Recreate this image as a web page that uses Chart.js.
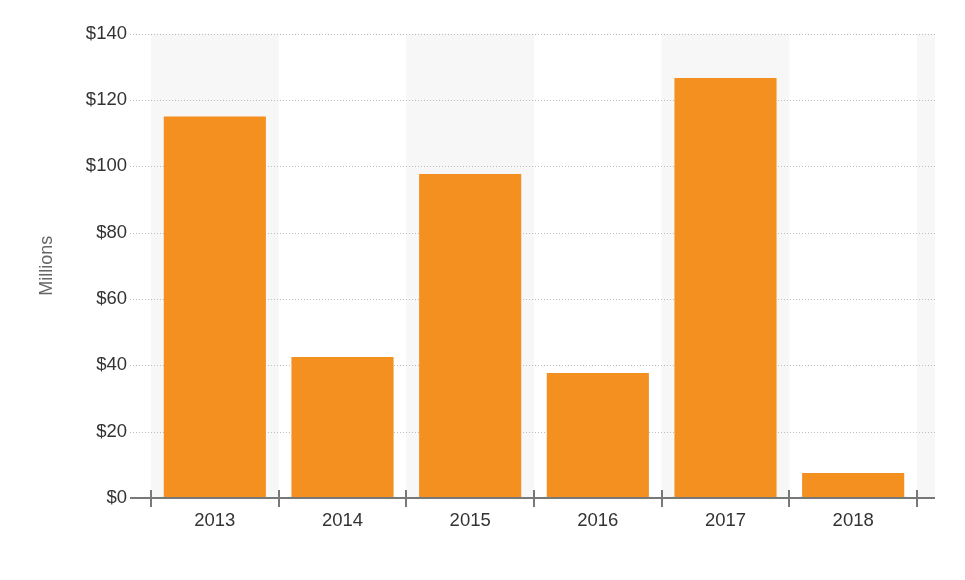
<!DOCTYPE html>
<html>
<head>
<meta charset="utf-8">
<script src="https://cdn.jsdelivr.net/npm/chart.js@4"></script>
<style>
  html, body { margin: 0; padding: 0; background: #fff; }
  #wrap { width: 965px; height: 580px; }
</style>
</head>
<body>
<div id="wrap"><canvas id="chart" width="965" height="580"></canvas></div>
<script>
// values (millions of dollars)
const years = ["2013", "2014", "2015", "2016", "2017", "2018"];
const amounts = [115, 42.5, 97.7, 37.7, 126.6, 7.5];
const yTicks = [0, 20, 40, 60, 80, 100, 120, 140];

const FONT = "'Liberation Sans', Arial, sans-serif";

// draws the striped bands, dotted grid and the axis line with its tick marks
const frame = {
  id: "frame",
  beforeDatasetsDraw(chart) {
    const { ctx, chartArea: a, scales: { y } } = chart;
    const step = (a.right - a.left) / years.length;
    const gridLeft = 130, gridRight = 935;
    ctx.save();
    ctx.fillStyle = "#f7f7f7";
    for (let i = 0; i <= years.length; i += 2) {
      const l = a.left + i * step;
      const r = Math.min(l + step, gridRight);
      ctx.fillRect(l, a.top, r - l, a.bottom - a.top);
    }
    ctx.strokeStyle = "#bdbdbd";
    ctx.lineWidth = 1;
    ctx.setLineDash([1, 2]);
    yTicks.forEach(v => {
      if (v === 0) return;
      const py = Math.round(y.getPixelForValue(v)) + 0.5;
      ctx.beginPath();
      ctx.moveTo(gridLeft, py);
      ctx.lineTo(gridRight, py);
      ctx.stroke();
    });
    ctx.restore();
  },
  afterDatasetsDraw(chart) {
    const { ctx, chartArea: a } = chart;
    const step = (a.right - a.left) / years.length;
    const py = a.bottom;
    ctx.save();
    ctx.strokeStyle = "#787878";
    ctx.lineWidth = 2;
    ctx.beginPath();
    ctx.moveTo(130, py);
    ctx.lineTo(935, py);
    ctx.stroke();
    for (let i = 0; i <= years.length; i++) {
      const px = Math.round(a.left + i * step);
      ctx.beginPath();
      ctx.moveTo(px, py - 8);
      ctx.lineTo(px, py + 9);
      ctx.stroke();
    }
    ctx.restore();
  }
};

new Chart(document.getElementById("chart"), {
  type: "bar",
  data: {
    labels: years,
    datasets: [{
      data: amounts,
      backgroundColor: "#f39020",
      borderWidth: 0,
      categoryPercentage: 0.8,
      barPercentage: 1,
    }],
  },
  options: {
    responsive: false,
    animation: false,
    layout: { padding: { left: 0, right: 48, top: 33.6, bottom: 0 } },
    plugins: {
      legend: { display: false },
      tooltip: { enabled: false },
    },
    scales: {
      x: {
        grid: { display: false },
        border: { display: false },
        ticks: { color: "#333", font: { family: FONT, size: 18.5 }, padding: 4, maxRotation: 0 },
        afterFit(s) { s.height = 82; s.paddingLeft = 0; s.paddingRight = 0; },
      },
      y: {
        min: 0,
        max: 140,
        afterBuildTicks(s) { s.ticks = yTicks.map(v => ({ value: v })); },
        grid: { display: false, drawTicks: false },
        border: { display: false },
        ticks: {
          color: "#333",
          font: { family: FONT, size: 18.5 },
          padding: 24,
          callback: v => "$" + v,
        },
        title: {
          display: true,
          text: "Millions",
          color: "#666",
          font: { family: FONT, size: 18 },
          padding: { top: 36, bottom: 0 },
        },
        afterFit(s) { s.width = 151; s.paddingTop = 0; s.paddingBottom = 0; },
      },
    },
  },
  plugins: [frame],
});
</script>
</body>
</html>
